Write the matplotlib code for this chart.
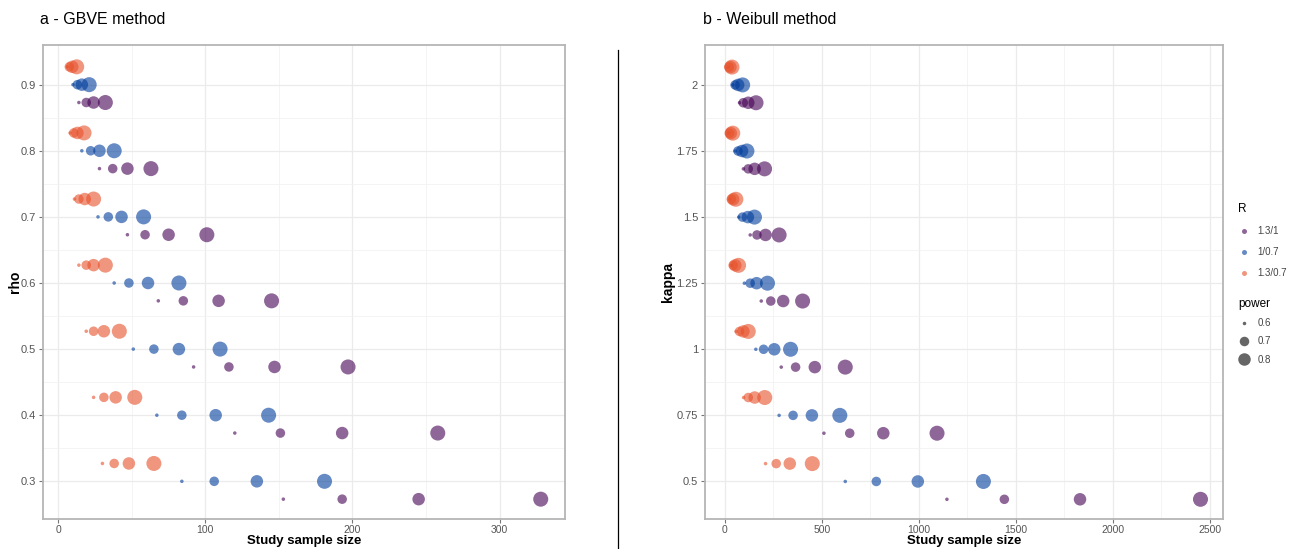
import matplotlib
matplotlib.use("Agg")
import matplotlib.pyplot as plt
from matplotlib.lines import Line2D
import numpy as np

# ---------------- data ----------------
power_levels = [0.6, 0.7, 0.8, 0.9]
legend_power = [0.6, 0.7, 0.8]
R_labels = ["1.3/1", "1/0.7", "1.3/0.7"]

rho = [0.9, 0.8, 0.7, 0.6, 0.5, 0.4, 0.3]
gbve_13_1 = [[14, 19, 24, 32], [28, 37, 47, 63], [47, 59, 75, 101], [68, 85, 109, 145],
             [92, 116, 147, 197], [120, 151, 193, 258], [153, 193, 245, 328]]
gbve_1_07 = [[10, 13, 16, 21], [16, 22, 28, 38], [27, 34, 43, 58], [38, 48, 61, 82],
             [51, 65, 82, 110], [67, 84, 107, 143], [84, 106, 135, 181]]
gbve_13_07 = [[6, 7.5, 9.5, 12.5], [8, 10.5, 13, 17.5], [11, 14, 18, 24], [14, 19, 24, 32],
              [19, 24, 31, 41.5], [24, 31, 39, 52], [30, 38, 48, 65]]

kappa = [2.0, 1.75, 1.5, 1.25, 1.0, 0.75, 0.5]
weib_13_1 = [[75, 94, 120, 160], [95, 120, 153, 204], [130, 165, 209, 279], [187, 236, 300, 400],
             [290, 364, 463, 620], [510, 643, 816, 1093], [1144, 1440, 1830, 2451]]
weib_1_07 = [[40, 52, 68, 91], [52, 67, 88, 113], [71, 90, 118, 152], [100, 130, 163, 219],
             [159, 199, 254, 338], [279, 351, 448, 592], [620, 780, 994, 1332]]
weib_13_07 = [[17, 22, 28, 36], [19, 24, 30, 40], [26, 33, 42, 56], [33, 42, 53, 70],
              [57, 75, 95, 120], [96, 120, 153, 205], [209, 264, 334, 450]]

# ---------------- style ----------------
colors = {"1.3/1": "#440154", "1/0.7": "#003c9b", "1.3/0.7": "#e6502a"}
alpha = 0.6
size_map = {0.6: 6.5, 0.7: 47, 0.8: 81, 0.9: 117}
dodge = {"1.3/1": -0.27, "1/0.7": 0.0, "1.3/0.7": 0.27}
tick_font = ["Liberation Sans Narrow", "Liberation Sans", "DejaVu Sans"]

W, H = 1291, 549
TOP, BOT = 45, 519
fig = plt.figure(figsize=(W / 100, H / 100), dpi=100)
fig.patch.set_facecolor("white")


def panel(rect, levels, series, step, xlim, ylim, xticks, xminor, ylabel, yticklabels, ylab_x):
    ax = fig.add_axes(rect)
    for lab in ["1.3/0.7", "1/0.7", "1.3/1"]:
        data = series[lab]
        for lev, row in zip(levels, data):
            yv = [lev + dodge[lab] * step] * len(row)
            ax.scatter(row, yv, s=[size_map[p] for p in power_levels],
                       color=colors[lab], alpha=alpha, edgecolors="none", zorder=3)
    ax.set_xlim(*xlim)
    ax.set_ylim(*ylim)
    ax.set_xticks(xticks)
    ax.set_xticks(xminor, minor=True)
    yt = sorted(levels)
    ax.set_yticks(yt)
    ax.set_yticklabels([yticklabels[l] for l in yt])
    ymin = [v + step / 2 for v in yt[:-1]]
    ax.set_yticks(ymin, minor=True)
    ax.grid(which="major", color="#ebebeb", lw=0.9, zorder=0)
    ax.grid(which="minor", color="#f2f2f2", lw=0.6, zorder=0)
    ax.set_axisbelow(True)
    for sp in ax.spines.values():
        sp.set_color("#b5b5b5")
        sp.set_linewidth(1.3)
    ax.tick_params(which="major", length=3, width=0.8, color="#777777",
                   labelsize=8, labelcolor="#555555", pad=2)
    ax.tick_params(axis="x", which="major", pad=1.5, labelsize=7.5)
    ax.tick_params(which="minor", length=0)
    for t in ax.get_xticklabels() + ax.get_yticklabels():
        t.set_family(tick_font)
    ax.set_xlabel("Study sample size", fontsize=9.5, fontweight="bold", family=tick_font)
    ax.xaxis.set_label_coords(0.5, -(541 - BOT) / (BOT - TOP))
    ax.xaxis.label.set_va("center")
    ax.set_ylabel(ylabel, fontsize=10, fontweight="bold", family=tick_font)
    ax.yaxis.set_label_coords(ylab_x, 0.5)
    ax.yaxis.label.set_va("center")
    return ax


fmt_rho = {v: f"{v:.1f}" for v in rho}
fmt_kappa = {2.0: "2", 1.75: "1.75", 1.5: "1.5", 1.25: "1.25", 1.0: "1", 0.75: "0.75", 0.5: "0.5"}

hfrac = (BOT - TOP) / H
bfrac = (H - BOT) / H
axL = panel([42.7 / W, bfrac, 522.3 / W, hfrac], rho,
            {"1.3/1": gbve_13_1, "1/0.7": gbve_1_07, "1.3/0.7": gbve_13_07},
            0.1, (-10.6, 344.5), (0.243, 0.96), [0, 100, 200, 300], [50, 150, 250],
            "rho", fmt_rho, (15 - 42.7) / 522.3)
axR = panel([705 / W, bfrac, 518 / W, hfrac], kappa,
            {"1.3/1": weib_13_1, "1/0.7": weib_1_07, "1.3/0.7": weib_13_07},
            0.25, (-103, 2567), (0.358, 2.151), [0, 500, 1000, 1500, 2000, 2500],
            [250, 750, 1250, 1750, 2250], "kappa", fmt_kappa, (668 - 705) / 518)

fig.text(40 / W, 1 - 20 / H, "a - GBVE method", fontsize=11.5, family="Liberation Sans",
         va="center", ha="left")
fig.text(703 / W, 1 - 20 / H, "b - Weibull method", fontsize=11.5, family="Liberation Sans",
         va="center", ha="left")

# separator line
fig.add_artist(Line2D([618 / W, 618 / W], [0, 1 - 50 / H], color="black", lw=0.9))

# legends
r_handles = [Line2D([], [], ls="", marker="o", markersize=3.6, markeredgewidth=0,
                    color=colors[l], alpha=alpha) for l in R_labels]
leg1 = fig.legend(r_handles, R_labels, title="R", loc="upper left",
                  bbox_to_anchor=(1231 / W, 1 - 196 / H), frameon=False,
                  prop={"family": tick_font, "size": 7},
                  title_fontproperties={"family": "Liberation Sans", "size": 8.5},
                  handletextpad=0.8, labelspacing=1.15, handlelength=1.2, borderpad=0.2)
leg1._legend_box.align = "left"
for t in leg1.get_texts():
    t.set_color("#444444")

p_handles = [Line2D([], [], ls="", marker="o", markersize=np.sqrt(size_map[p]),
                    markeredgewidth=0, color="#333333", alpha=0.75) for p in legend_power]
leg2 = fig.legend(p_handles, [str(p) for p in legend_power], title="power", loc="upper left",
                  bbox_to_anchor=(1231 / W, 1 - 291 / H), frameon=False,
                  prop={"family": tick_font, "size": 7},
                  title_fontproperties={"family": "Liberation Sans", "size": 8.5},
                  handletextpad=0.8, labelspacing=0.85, handlelength=1.2, borderpad=0.2)
leg2._legend_box.align = "left"
for t in leg2.get_texts():
    t.set_color("#444444")

fig.savefig("out.png", dpi=100)
